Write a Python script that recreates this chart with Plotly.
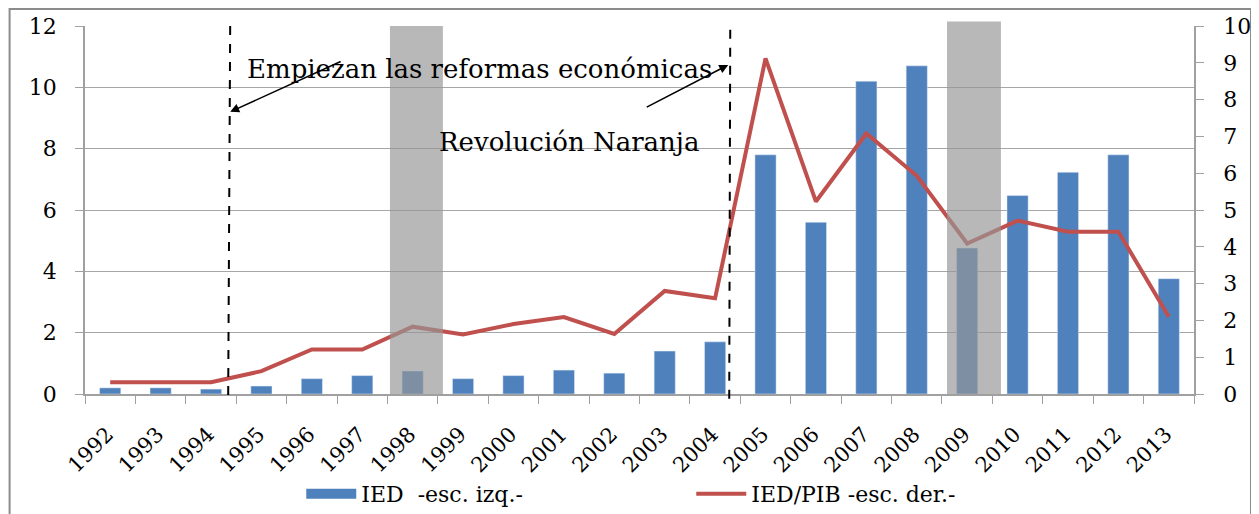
import plotly.graph_objects as go

# datos
years = [str(y) for y in range(1992, 2014)]
ied = [0.2, 0.2, 0.16, 0.26, 0.5, 0.6, 0.75, 0.5, 0.6, 0.78, 0.68, 1.4, 1.7,
       7.8, 5.6, 10.2, 10.7, 4.76, 6.47, 7.23, 7.8, 3.76]
ied_pib = [0.32, 0.32, 0.32, 0.62, 1.21, 1.21, 1.83, 1.62, 1.9, 2.09, 1.63, 2.8, 2.6,
           9.12, 5.23, 7.08, 5.93, 4.09, 4.71, 4.41, 4.41, 2.1]

SERIF = "DejaVu Serif"
BLUE = "#4f81bd"
RED = "#c0504d"
NBSP = "\u00a0"

fig = go.Figure()
fig.add_trace(go.Bar(
    x=years, y=ied, name="IED" + NBSP * 2 + "-esc. izq.-",
    marker_color=BLUE, yaxis="y", showlegend=False,
))
# símbolo de leyenda ancho para las barras (como en Excel)
fig.add_trace(go.Scatter(
    x=[None], y=[None], name="IED" + NBSP * 2 + "-esc. izq.-", mode="lines",
    line=dict(color=BLUE, width=13), yaxis="y",
))
fig.add_trace(go.Scatter(
    x=years, y=ied_pib, name="IED/PIB -esc. der.-",
    mode="lines", line=dict(color=RED, width=4), yaxis="y2",
))

shapes = [
    # marco exterior
    dict(type="rect", xref="paper", yref="paper", x0=-0.068, x1=1.0514, y0=-0.4, y1=1.046,
         line=dict(color="#8c8c8c", width=2), layer="below"),
    # bandas grises (crisis 1998 y 2009)
    dict(type="rect", xref="x", yref="paper", x0=5.55, x1=6.6, y0=0, y1=1.0,
         fillcolor="rgba(150,150,150,0.68)", line=dict(width=0), layer="above"),
    dict(type="rect", xref="x", yref="paper", x0=16.6, x1=17.67, y0=0, y1=1.012,
         fillcolor="rgba(150,150,150,0.68)", line=dict(width=0), layer="above"),
    # líneas verticales punteadas
    dict(type="line", xref="x", yref="paper", x0=2.38, x1=2.34, y0=1.0, y1=-0.016,
         line=dict(color="black", width=2, dash="dash"), layer="above"),
    dict(type="line", xref="x", yref="paper", x0=12.3, x1=12.28, y0=0.99, y1=-0.016,
         line=dict(color="black", width=2, dash="dash"), layer="above"),
]

annotations = [
    dict(xref="paper", yref="paper", x=0.356, y=0.929, text="Empiezan las reformas económicas",
         showarrow=False, font=dict(family=SERIF, size=26, color="black")),
    dict(xref="paper", yref="paper", x=0.436, y=0.731, text="Revolución Naranja",
         showarrow=False, font=dict(family=SERIF, size=26, color="black")),
    dict(xref="x", yref="y", x=2.38, y=9.2, ax=112, ay=-51, text="",
         showarrow=True, arrowhead=2, arrowsize=1.2, arrowwidth=1.5, arrowcolor="black"),
    dict(xref="x", yref="y", x=12.26, y=10.73, ax=-83, ay=43, text="",
         showarrow=True, arrowhead=2, arrowsize=1.2, arrowwidth=1.5, arrowcolor="black"),
]

fig.update_layout(
    width=1259, height=514,
    margin=dict(l=77, r=73, t=18, b=128),
    paper_bgcolor="white", plot_bgcolor="white",
    bargap=0.58,
    showlegend=True,
    legend=dict(orientation="h", x=0.195, y=0.0545, xanchor="left", yanchor="middle",
                yref="container", entrywidth=325, itemwidth=50,
                font=dict(family=SERIF, size=22, color="black")),
    xaxis=dict(
        type="category", tickangle=-45, tickson="boundaries", ticks="outside",
        ticklen=8, tickcolor="#a0a0a0", showline=True, linecolor="#a0a0a0", linewidth=1.5,
        showgrid=False, tickfont=dict(family=SERIF, size=21, color="black"),
        ticklabelstandoff=18, ticklabelshift=-3,
        range=[-0.5, 21.5], automargin=False,
    ),
    yaxis=dict(
        range=[0, 12], dtick=2, showgrid=True, gridcolor="#a6a6a6", gridwidth=1,
        showline=True, linecolor="#a0a0a0", linewidth=1.5, ticks="outside", ticklen=8,
        tickcolor="#a0a0a0", zeroline=False, ticklabelstandoff=14, automargin=False,
        tickfont=dict(family=SERIF, size=22, color="black"),
    ),
    yaxis2=dict(
        range=[0, 10], dtick=1, overlaying="y", side="right", showgrid=False,
        showline=True, linecolor="#a0a0a0", linewidth=1.5, ticks="outside", ticklen=8,
        tickcolor="#a0a0a0", zeroline=False, ticklabelstandoff=15, automargin=False,
        tickfont=dict(family=SERIF, size=22, color="black"),
    ),
    shapes=shapes,
    annotations=annotations,
)

fig.write_html("out.html")
